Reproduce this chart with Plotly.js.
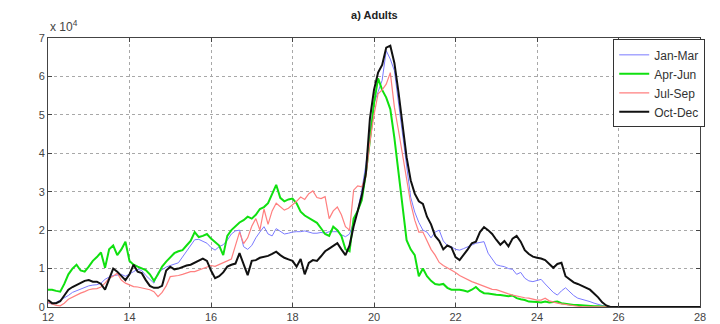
<!DOCTYPE html>
<html>
<head>
<meta charset="utf-8">
<script src="https://cdn.plot.ly/plotly-3.0.1.min.js"></script>
<style>html,body{margin:0;padding:0;background:#fff;}#chart{width:720px;height:324px;}</style>
</head>
<body>
<div id="chart"></div>
<script>
// size bins (x axis)
const sizeBins = [
12.0,12.1,12.2,12.3,12.4,12.5,12.6,12.7,12.8,12.9,
13.0,13.1,13.2,13.3,13.4,13.5,13.6,13.7,13.8,13.9,
14.0,14.1,14.2,14.3,14.4,14.5,14.6,14.7,14.8,14.9,
15.0,15.1,15.2,15.3,15.4,15.5,15.6,15.7,15.8,15.9,
16.0,16.1,16.2,16.3,16.4,16.5,16.6,16.7,16.8,16.9,
17.0,17.1,17.2,17.3,17.4,17.5,17.6,17.7,17.8,17.9,
18.0,18.1,18.2,18.3,18.4,18.5,18.6,18.7,18.8,18.9,
19.0,19.1,19.2,19.3,19.4,19.5,19.6,19.7,19.8,19.9,
20.0,20.1,20.2,20.3,20.4,20.5,20.6,20.7,20.8,20.9,
21.0,21.1,21.2,21.3,21.4,21.5,21.6,21.7,21.8,21.9,
22.0,22.1,22.2,22.3,22.4,22.5,22.6,22.7,22.8,22.9,
23.0,23.1,23.2,23.3,23.4,23.5,23.6,23.7,23.8,23.9,
24.0,24.1,24.2,24.3,24.4,24.5,24.6,24.7,24.8,24.9,
25.0,25.1,25.2,25.3,25.4,25.5,25.6,25.7,25.8,25.9,
26.0,26.1,26.2,26.3,26.4,26.5,26.6,26.7,26.8,26.9,
27.0,27.1,27.2,27.3,27.4,27.5,27.6,27.7,27.8,27.9,
28.0];

// counts in units of 10^4
const janMar = [
0.10,0.08,0.12,0.18,0.22,0.30,0.38,0.42,0.48,0.50,
0.55,0.57,0.58,0.62,0.72,0.78,0.82,0.83,0.85,0.80,
0.85,0.92,0.98,0.95,0.82,0.72,0.62,0.90,0.98,1.04,
1.08,1.12,1.15,1.30,1.44,1.60,1.75,1.76,1.70,1.66,
1.55,1.48,1.57,1.62,1.74,1.90,1.98,2.00,1.57,1.50,
1.60,1.80,1.95,2.09,1.90,1.85,2.04,1.98,1.90,1.92,
1.95,1.96,1.96,1.98,1.95,1.92,1.92,1.94,1.92,1.96,
1.96,1.96,1.88,1.83,1.90,2.20,2.50,3.04,3.70,4.50,
5.30,5.60,5.90,6.67,6.45,6.15,5.30,4.60,3.60,2.86,
2.47,2.20,2.00,1.95,1.80,1.95,2.00,1.72,1.60,1.57,
1.50,1.48,1.52,1.57,1.62,1.66,1.68,1.70,1.40,1.25,
1.10,1.07,1.05,1.00,0.98,0.85,0.90,0.75,0.68,0.66,
0.70,0.72,0.60,0.50,0.38,0.31,0.42,0.50,0.40,0.30,
0.23,0.20,0.18,0.14,0.10,0.06,0.04,0.02,0.00,0.00,
0,0,0,0,0,0,0,0,0,0,
0,0,0,0,0,0,0,0,0,0,
0];

const aprJun = [
0.45,0.45,0.42,0.40,0.60,0.85,1.00,1.10,0.95,0.92,
1.05,1.20,1.30,1.42,1.02,1.50,1.60,1.35,1.50,1.70,
1.20,1.10,1.05,1.00,0.96,0.85,0.68,0.85,1.05,1.18,
1.30,1.40,1.45,1.48,1.60,1.72,1.95,1.82,1.85,1.90,
1.78,1.70,1.60,1.35,1.85,2.00,2.10,2.20,2.26,2.35,
2.30,2.40,2.55,2.60,2.70,2.95,3.18,2.84,2.75,2.80,
2.82,2.70,2.48,2.38,2.32,2.25,2.19,2.05,1.90,1.85,
2.09,2.00,1.85,1.50,1.45,2.30,2.50,2.78,3.48,4.34,
5.30,5.95,5.65,5.45,5.15,4.40,3.50,2.60,1.74,1.50,
1.35,0.80,1.00,0.80,0.68,0.60,0.58,0.60,0.50,0.45,
0.45,0.45,0.43,0.40,0.45,0.52,0.42,0.36,0.35,0.33,
0.32,0.31,0.30,0.28,0.30,0.23,0.20,0.18,0.14,0.14,
0.13,0.12,0.14,0.12,0.13,0.14,0.10,0.08,0.07,0.05,
0.05,0.04,0.03,0.03,0.02,0.02,0.01,0.01,0.00,0.00,
0,0,0.01,0,0,0,0.01,0,0,0,
0,0.01,0,0,0,0,0.01,0,0,0,
0];

const julSep = [
0.12,0.08,0.04,0.03,0.10,0.20,0.26,0.31,0.36,0.40,
0.45,0.47,0.48,0.52,0.62,0.75,0.80,0.88,0.70,0.62,
0.58,0.53,0.52,0.50,0.48,0.45,0.40,0.27,0.38,0.55,
0.79,0.80,0.82,0.85,0.88,0.92,0.92,0.96,1.00,1.05,
1.08,1.06,1.10,1.15,1.20,1.25,1.57,1.95,1.65,1.80,
2.10,2.30,2.00,2.55,2.15,2.50,2.70,2.60,2.52,2.57,
2.65,2.75,2.86,2.80,2.95,3.02,2.85,2.82,2.87,2.30,
2.50,2.60,2.40,2.09,2.00,3.04,3.15,3.13,3.39,4.30,
5.00,5.55,5.65,5.80,6.10,5.20,4.60,4.00,3.30,2.70,
2.26,1.95,1.95,1.72,1.50,1.35,1.16,1.08,1.02,0.97,
0.90,0.82,0.76,0.70,0.66,0.62,0.58,0.52,0.49,0.46,
0.45,0.42,0.38,0.34,0.31,0.28,0.27,0.24,0.23,0.20,
0.18,0.18,0.23,0.16,0.12,0.10,0.08,0.06,0.04,0.03,
0.02,0.01,0.01,0.01,0.00,0.00,0.00,0.00,0.00,0.00,
0,0,0,0,0.01,0,0,0,0,0,
0,0,0,0.01,0,0,0,0,0,0,
0];

const octDec = [
0.18,0.10,0.10,0.15,0.30,0.45,0.52,0.58,0.62,0.68,
0.70,0.66,0.66,0.60,0.45,0.75,1.00,0.92,0.82,0.70,
0.85,1.10,0.92,0.88,0.70,0.55,0.50,0.50,0.55,0.95,
1.05,0.98,1.00,1.05,1.08,1.10,1.15,1.22,1.26,1.20,
0.95,0.75,0.80,0.90,1.05,1.10,1.13,1.40,1.10,0.83,
1.20,1.22,1.28,1.30,1.33,1.38,1.44,1.35,1.28,1.24,
1.20,1.05,1.25,0.85,1.15,1.22,1.20,1.32,1.45,1.52,
1.60,1.66,1.50,1.35,1.60,2.10,2.50,2.90,3.48,4.90,
5.65,6.10,6.30,6.75,6.80,6.35,5.60,4.78,3.90,3.30,
2.95,2.75,2.68,2.35,2.15,1.85,1.72,1.50,1.60,1.55,
1.30,1.22,1.35,1.50,1.66,1.70,1.95,2.08,2.00,1.90,
1.75,1.62,1.72,1.58,1.78,1.85,1.70,1.48,1.38,1.31,
1.28,1.26,1.22,1.12,1.02,1.12,1.15,0.80,0.72,0.64,
0.60,0.55,0.52,0.45,0.35,0.25,0.12,0.04,0.00,0.00,
0,0,0,0,0,0,0,0,0,0,
0,0,0,0,0,0,0,0,0,0,
0];

const seriesNames = ['Jan-Mar','Apr-Jun','Jul-Sep','Oct-Dec'];
const xTicks = [12,14,16,18,20,22,24,26,28];
const yTicks = [0,1,2,3,4,5,6,7];

const font = 'Liberation Sans, Arial, sans-serif';
const traces = [
  {x: sizeBins, y: janMar, name: seriesNames[0], mode: 'lines', line: {color: '#7a7aff', width: 1}},
  {x: sizeBins, y: aprJun, name: seriesNames[1], mode: 'lines', line: {color: '#10e010', width: 2}},
  {x: sizeBins, y: julSep, name: seriesNames[2], mode: 'lines', line: {color: '#ff7f7f', width: 1.2}},
  {x: sizeBins, y: octDec, name: seriesNames[3], mode: 'lines', line: {color: '#111111', width: 2}}
];

const axisCommon = {
  showline: true, mirror: 'ticks', linecolor: '#444', linewidth: 1,
  ticks: 'inside', ticklen: 4, tickcolor: '#444',
  showgrid: true, gridcolor: '#a8a8a8', griddash: 'dot', gridwidth: 1,
  zeroline: false, tickfont: {family: font, size: 11, color: '#444'}
};

const layout = {
  width: 720, height: 324,
  margin: {l: 48, r: 20, t: 38, b: 17},
  paper_bgcolor: '#fff', plot_bgcolor: '#fff',
  showlegend: true,
  title: {text: '<b>a) Adults</b>', font: {family: font, size: 11, color: '#222'},
          x: 0.52, xref: 'container', y: 1 - 15/324, yref: 'container', yanchor: 'middle'},
  xaxis: Object.assign({}, axisCommon, {range: [12, 28], tickvals: xTicks, ticktext: xTicks.map(String)}),
  yaxis: Object.assign({}, axisCommon, {range: [0, 7], tickvals: yTicks, ticktext: yTicks.map(String)}),
  legend: {x: 1.008, xanchor: 'right', y: 0.995, yanchor: 'top', bgcolor: '#fff',
           bordercolor: '#333', borderwidth: 1, font: {family: font, size: 12, color: '#333'},
           tracegroupgap: 0, itemwidth: 30},
  annotations: [{text: 'x 10<sup>4</sup>', xref: 'paper', yref: 'paper', x: 0, y: 1,
                 xanchor: 'left', yanchor: 'bottom', yshift: 2, showarrow: false,
                 font: {family: font, size: 12, color: '#444'}}]
};

Plotly.newPlot('chart', traces, layout, {displayModeBar: false, staticPlot: true});
</script>
</body>
</html>
